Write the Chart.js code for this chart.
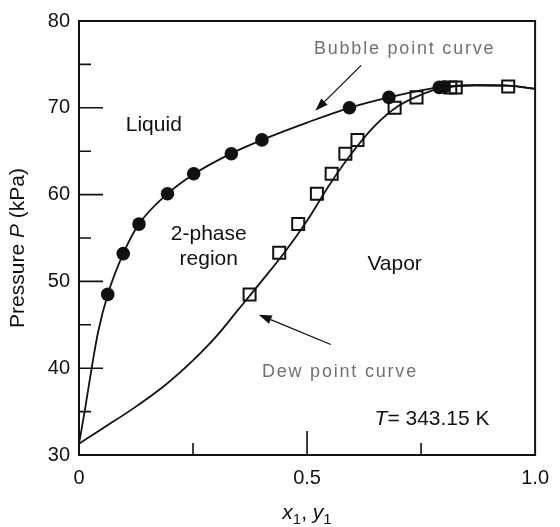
<!DOCTYPE html>
<html>
<head>
<meta charset="utf-8">
<script src="https://cdn.jsdelivr.net/npm/chart.js@4/dist/chart.umd.min.js"></script>
<style>
  html, body { margin: 0; padding: 0; background: #fff; }
</style>
</head>
<body>
<canvas id="vle" width="560" height="527"></canvas>
<script>
// Measured bubble points (liquid mole fraction x1, pressure in kPa)
const bubbleX = [0.063, 0.097, 0.1315, 0.194, 0.2515, 0.334, 0.401, 0.593, 0.6795, 0.79, 0.80];
const bubbleP = [48.5, 53.2, 56.6, 60.1, 62.4, 64.7, 66.3, 70.0, 71.2, 72.35, 72.4];

// Measured dew points (vapour mole fraction y1, pressure in kPa)
const dewY = [0.374, 0.439, 0.4806, 0.5216, 0.554, 0.584, 0.6106, 0.692, 0.740, 0.814, 0.826, 0.941];
const dewP = [48.5, 53.3, 56.6, 60.1, 62.4, 64.7, 66.3, 70.0, 71.2, 72.35, 72.35, 72.45];

// Bubble point curve
const bubbleCurveX = [0, 0.013, 0.028, 0.042, 0.063, 0.097, 0.1315, 0.194, 0.2515, 0.334, 0.401, 0.5, 0.593, 0.68, 0.79, 0.87, 0.94, 1.0];
const bubbleCurveP = [31.3, 35.2, 40.1, 44.2, 48.5, 53.2, 56.6, 60.1, 62.35, 64.75, 66.3, 68.3, 70.0, 71.2, 72.35, 72.6, 72.55, 72.2];

// Dew point curve
const dewCurveY = [0, 0.05, 0.12, 0.19, 0.25, 0.30, 0.35, 0.40, 0.45, 0.50, 0.55, 0.60, 0.65, 0.70, 0.75, 0.79, 0.87, 0.94, 1.0];
const dewCurveP = [31.3, 33.0, 35.4, 38.1, 40.9, 43.6, 46.8, 50.0, 53.3, 57.0, 61.2, 64.9, 68.0, 70.2, 71.5, 72.2, 72.6, 72.55, 72.2];

// Axis ticks
const xTickValues = [0, 0.5, 1.0];
const xTickLabels = ['0', '0.5', '1.0'];
const xMajorTicks = [0.5];
const xMinorTicks = [0.25, 0.75];
const yMajorTicks = [40, 50, 60, 70];
const yMinorTicks = [35, 45, 55, 65, 75];

const FONT = "'Liberation Sans', Arial, sans-serif";

function toPoints(xs, ys) {
    return xs.map((x, i) => ({ x: x, y: ys[i] }));
}

// text pieces drawn one after another, each with its own style
function drawRuns(ctx, runs, x, y) {
    let cx = x;
    runs.forEach(r => {
        ctx.font = r.font;
        ctx.fillText(r.text, cx, y + (r.dy || 0));
        cx += ctx.measureText(r.text).width;
    });
    return cx - x;
}

function runsWidth(ctx, runs) {
    let w = 0;
    runs.forEach(r => {
        ctx.font = r.font;
        w += ctx.measureText(r.text).width;
    });
    return w;
}

function arrow(ctx, x0, y0, x1, y1) {
    const ang = Math.atan2(y1 - y0, x1 - x0);
    const head = 13, half = 4.5;
    const bx = x1 - head * Math.cos(ang), by = y1 - head * Math.sin(ang);
    ctx.beginPath();
    ctx.moveTo(x0, y0);
    ctx.lineTo(bx, by);
    ctx.lineWidth = 1.3;
    ctx.stroke();
    ctx.beginPath();
    ctx.moveTo(x1, y1);
    ctx.lineTo(bx + half * Math.sin(ang), by - half * Math.cos(ang));
    ctx.lineTo(bx - half * Math.sin(ang), by + half * Math.cos(ang));
    ctx.closePath();
    ctx.fill();
}

const decorations = {
    id: 'decorations',
    afterDatasetsDraw(chart) {
        const ctx = chart.ctx;
        const area = chart.chartArea;
        const xs = chart.scales.x, ys = chart.scales.y;
        const px = v => xs.getPixelForValue(v);
        const py = v => ys.getPixelForValue(v);

        ctx.save();
        ctx.strokeStyle = '#111';
        ctx.fillStyle = '#111';

        // plot frame
        ctx.lineWidth = 2;
        ctx.strokeRect(area.left, area.top, area.right - area.left, area.bottom - area.top);

        // inward tick marks
        ctx.lineWidth = 1.6;
        ctx.beginPath();
        yMajorTicks.forEach(v => { ctx.moveTo(area.left, py(v)); ctx.lineTo(area.left + 24, py(v)); });
        yMinorTicks.forEach(v => { ctx.moveTo(area.left, py(v)); ctx.lineTo(area.left + 12, py(v)); });
        xMajorTicks.forEach(v => { ctx.moveTo(px(v), area.bottom); ctx.lineTo(px(v), area.bottom - 24); });
        xMinorTicks.forEach(v => { ctx.moveTo(px(v), area.bottom); ctx.lineTo(px(v), area.bottom - 12); });
        ctx.stroke();

        // region labels
        ctx.font = '21px ' + FONT;
        ctx.textAlign = 'center';
        ctx.textBaseline = 'alphabetic';
        ctx.fillText('Liquid', px(0.164), py(67.27));
        ctx.fillText('2-phase', px(0.2845), py(54.77));
        ctx.fillText('region', px(0.2845), py(51.93));
        ctx.fillText('Vapor', px(0.692), py(51.36));

        ctx.textAlign = 'left';
        drawRuns(ctx, [
            { text: 'T', font: 'italic 21px ' + FONT },
            { text: '= 343.15 K', font: '21px ' + FONT }
        ], px(0.648), py(33.41));

        // curve captions with pointers
        ctx.save();
        ctx.fillStyle = '#707070';
        ctx.font = '18px ' + FONT;
        ctx.letterSpacing = '1.8px';
        ctx.fillText('Bubble point curve', px(0.515), py(76.25));
        ctx.fillText('Dew point curve', px(0.401), py(38.98));
        ctx.restore();

        arrow(ctx, px(0.6185), py(74.89), px(0.518), py(69.66));
        arrow(ctx, px(0.552), py(42.73), px(0.394), py(46.17));

        // y axis title
        ctx.save();
        const yRuns = [
            { text: 'Pressure ', font: '21px ' + FONT },
            { text: 'P', font: 'italic 21px ' + FONT },
            { text: ' (kPa)', font: '21px ' + FONT }
        ];
        ctx.translate(18, (area.top + area.bottom) / 2 + 10);
        ctx.rotate(-Math.PI / 2);
        ctx.textBaseline = 'middle';
        drawRuns(ctx, yRuns, -runsWidth(ctx, yRuns) / 2, 0);
        ctx.restore();

        // x axis title
        const xRuns = [
            { text: 'x', font: 'italic 21px ' + FONT },
            { text: '1', font: '15px ' + FONT, dy: 5 },
            { text: ', ', font: '21px ' + FONT },
            { text: 'y', font: 'italic 21px ' + FONT },
            { text: '1', font: '15px ' + FONT, dy: 5 }
        ];
        drawRuns(ctx, xRuns, 307 - runsWidth(ctx, xRuns) / 2, 519);

        ctx.restore();
    }
};

new Chart(document.getElementById('vle'), {
    type: 'scatter',
    data: {
        datasets: [
            {
                label: 'Bubble point curve',
                data: toPoints(bubbleCurveX, bubbleCurveP),
                showLine: true,
                borderColor: '#111',
                borderWidth: 1.8,
                pointRadius: 0,
                cubicInterpolationMode: 'monotone'
            },
            {
                label: 'Dew point curve',
                data: toPoints(dewCurveY, dewCurveP),
                showLine: true,
                borderColor: '#111',
                borderWidth: 1.8,
                pointRadius: 0,
                cubicInterpolationMode: 'monotone'
            },
            {
                label: 'Dew points',
                data: toPoints(dewY, dewP),
                pointStyle: 'rect',
                pointRadius: 8.5,
                borderColor: '#111',
                borderWidth: 2,
                backgroundColor: 'rgba(0,0,0,0)'
            },
            {
                label: 'Bubble points',
                data: toPoints(bubbleX, bubbleP),
                pointStyle: 'circle',
                pointRadius: 6.8,
                borderColor: '#111',
                borderWidth: 0,
                backgroundColor: '#111'
            }
        ]
    },
    options: {
        responsive: false,
        animation: false,
        devicePixelRatio: 1,
        layout: { padding: { top: 15, right: 17, left: 0, bottom: 0 } },
        plugins: {
            legend: { display: false },
            tooltip: { enabled: false }
        },
        scales: {
            x: {
                type: 'linear',
                min: 0,
                max: 1,
                afterBuildTicks: scale => {
                    scale.ticks = xTickValues.map(v => ({ value: v }));
                },
                afterFit: scale => { scale.height = 72; },
                ticks: {
                    callback: (value, index) => xTickLabels[index],
                    color: '#111',
                    font: { family: FONT, size: 20 },
                    padding: 11,
                    maxRotation: 0
                },
                grid: { display: false, drawTicks: false },
                border: { display: false }
            },
            y: {
                min: 30,
                max: 80,
                afterFit: scale => { scale.width = 79; },
                ticks: {
                    stepSize: 10,
                    color: '#111',
                    font: { family: FONT, size: 20 },
                    padding: 9
                },
                grid: { display: false, drawTicks: false },
                border: { display: false }
            }
        }
    },
    plugins: [decorations]
});
</script>
</body>
</html>
